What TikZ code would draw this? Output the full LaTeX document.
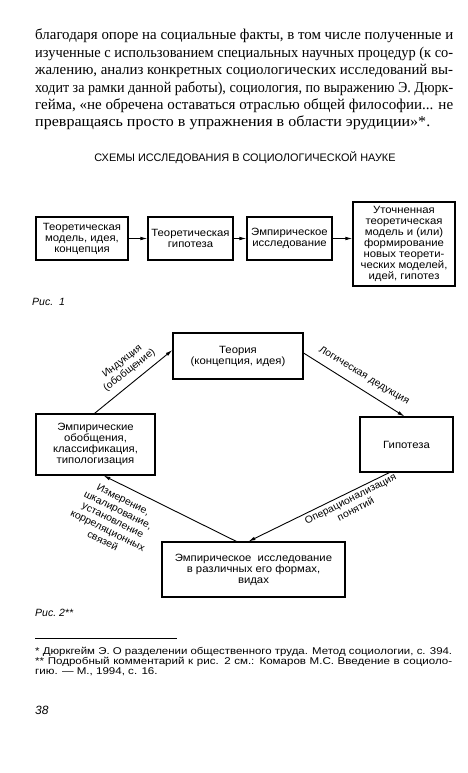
\documentclass[tikz,border=0pt]{standalone}
\usepackage{fontspec}
\usepackage{graphicx}
\setmainfont[FakeStretch=1.07]{Liberation Serif}
\newfontfamily\dsans{Liberation Sans}
\newfontfamily\boxfont[FakeStretch=1.08]{Liberation Sans}
\newfontfamily\lblfont[FakeStretch=1.05]{Liberation Sans}
\newfontfamily\footfont[FakeStretch=1.18]{Liberation Sans}
\usetikzlibrary{arrows.meta}
\newcommand\fitline[2]{\setbox0=\hbox{#2}\ifdim\wd0>#1\relax\resizebox{#1}{\height}{\box0}\else\makebox[#1][s]{#2}\fi}
\begin{document}
\begin{tikzpicture}[x=1pt,y=-1pt,
  para/.style={anchor=base west, inner sep=0pt, font=\fontsize{15}{17.4}\selectfont},
  box/.style={draw, line width=1.1pt, align=center, inner sep=1pt,
    font=\boxfont\fontsize{10.5}{11}\selectfont},
  arr/.style={-{Latex[length=7pt,width=3.6pt]}, line width=0.9pt},
  lbl/.style={font=\lblfont\fontsize{10}{11.5}\selectfont, align=center, inner sep=0pt},
  figcap/.style={anchor=base west, inner sep=0pt, font=\dsans\itshape\fontsize{10.5}{11}\selectfont},
  foot/.style={anchor=base west, inner sep=0pt, font=\footfont\fontsize{9.8}{10}\selectfont}]
\useasboundingbox[fill=white] (0,0) rectangle (468,773);

% paragraph
\node[para] (p1) at (35,40) {\fitline{418pt}{благодаря опоре на социальные факты, в том числе полученные и}};
\node[para] (p2) at (35,57.4) {\fitline{418pt}{изученные с использованием специальных научных процедур (к со-}};
\node[para] (p3) at (35,74.8) {\fitline{418pt}{жалению, анализ конкретных социологических исследований вы-}};
\node[para] (p4) at (35,92.2) {\fitline{418pt}{ходит за рамки данной работы), социология, по выражению Э. Дюрк-}};
\node[para] (p5) at (35,109.6) {\fitline{418pt}{гейма, «не обречена оставаться отраслью общей философии... не}};
\node[para] (p6) at (35,127) {превращаясь просто в упражнения в области эрудиции»*.};

% title
\node[anchor=base, inner sep=0pt, font=\dsans\fontsize{10.9}{12}\selectfont] (title) at (245,161.5)
  {СХЕМЫ ИССЛЕДОВАНИЯ В СОЦИОЛОГИЧЕСКОЙ НАУКЕ};

% figure 1
\node[box, minimum width=92pt, minimum height=43pt] (b1) at (82,238.5) {Теоретическая\\модель, идея,\\концепция};
\node[box, minimum width=85pt, minimum height=43pt] (b2) at (190.5,238.5) {Теоретическая\\гипотеза};
\node[box, minimum width=85pt, minimum height=43pt] (b3) at (289.5,238.5) {Эмпирическое\\исследование};
\node[box, minimum width=102pt, minimum height=84pt] (b4) at (404,244) {Уточненная\\теоретическая\\модель и (или)\\формирование\\новых теорети-\\ческих моделей,\\идей, гипотез};
\draw[arr] (b1.east) -- (b2.west);
\draw[arr] (b2.east) -- (b3.west);
\draw[arr] (b3.east) -- (b3.east -| b4.west);
\node[figcap] (fig1) at (32,305) {Рис.\ \ 1};

% figure 2
\node[box, minimum width=130pt, minimum height=46pt] (theo) at (238,356) {Теория\\(концепция, идея)};
\node[box, minimum width=119pt, minimum height=61pt] (emp) at (95.5,444.5) {Эмпирические\\обобщения,\\классификация,\\типологизация};
\node[box, minimum width=93pt, minimum height=55pt] (hyp) at (406.5,444.5) {Гипотеза};
\node[box, minimum width=183pt, minimum height=55pt] (res) at (253.5,569.5) {Эмпирическое\ \ исследование\\в различных его формах,\\видах};

\coordinate (a1s) at ([xshift=59pt]emp.north west);
\coordinate (a1e) at ([yshift=6pt]theo.west);
\coordinate (a2s) at ([yshift=3pt]theo.east);
\coordinate (a2e) at ([xshift=45pt]hyp.north west);
\coordinate (a3s) at ([xshift=30pt]hyp.south west);
\coordinate (a3e) at ([xshift=87pt]res.north west);
\coordinate (a4s) at ([xshift=75pt]res.north west);
\coordinate (a4e) at ([xshift=68pt]emp.south west);
\draw[arr] (a1s) -- (a1e);
\draw[arr] (a2s) -- (a2e);
\draw[arr] (a3s) -- (a3e);
\draw[arr] (a4s) -- (a4e);

\node[lbl, rotate=38] (l1) at (126,366) {Индукция\\(обобщение)};
\node[lbl, rotate=-31] (l2) at (364,376) {Логическая дедукция};
\node[lbl, rotate=26.7] (l3) at (353,504) {Операционализация\\понятий};
\node[lbl, rotate=-26.6] (l4) at (113,520) {Измерение,\\шкалирование,\\установление\\корреляционных\\связей};
\node[figcap] (fig2) at (35,616) {Рис.\ 2**};

% footnotes
\draw[line width=0.5pt] (35,638) -- (177,638);
\node[foot] (f1) at (35,654) {\fitline{417pt}{* Дюркгейм Э. О разделении общественного труда. Метод социологии, с. 394.}};
\node[foot] (f2) at (35,664) {\fitline{417pt}{** Подробный комментарий к рис. 2 см.: Комаров М.С. Введение в социоло-}};
\node[foot] (f3) at (35,674) {гию. — М., 1994, с. 16.};
\node[anchor=base west, inner sep=0pt, font=\dsans\itshape\fontsize{12}{13}\selectfont] (pg) at (35,714) {38};
\end{tikzpicture}
\end{document}
